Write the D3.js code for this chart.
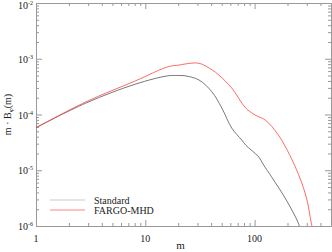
<!DOCTYPE html>
<html lang="en">
<head>
<meta charset="UTF-8">
<script src="https://d3js.org/d3.v7.min.js"></script>
<style>
  body { margin: 0; background: #fff; }
  text { font-family: "Liberation Serif", "DejaVu Serif", serif; fill: #222; }
</style>
</head>
<body>
<script>
// values
const stdM   = [1, 2.85, 8.1, 16.2, 20.4, 23.1, 31, 40.6, 50.1, 61.8, 76.2, 82.8, 109, 121, 143, 195, 251, 270];
const stdVal = [5.8e-5, 1.6e-4, 3.5e-4, 4.95e-4, 5.0e-4, 4.95e-4, 4.16e-4, 2.56e-4, 1.31e-4, 5.7e-5, 3.49e-5, 2.84e-5, 1.73e-5, 1.24e-5, 7.6e-6, 2.92e-6, 1.13e-6, 7e-7];
const fargoM   = [1, 2.85, 8.1, 16.2, 20.4, 23.1, 31, 40.9, 47.1, 61.8, 82.8, 101, 125, 165, 236, 297, 330, 350];
const fargoVal = [5.8e-5, 1.68e-4, 4.0e-4, 7.2e-4, 7.7e-4, 8.05e-4, 8.3e-4, 6.3e-4, 5.1e-4, 2.98e-4, 1.31e-4, 9.8e-5, 7.96e-5, 4.28e-5, 1.14e-5, 3.3e-6, 1.13e-6, 7e-7];
const seriesNames = ["Standard", "FARGO-MHD"];
const xTicks = [1, 10, 100];
const yExps = [-6, -5, -4, -3, -2];

const width = 332, height = 252;
const mLeft = 36, mRight = 331, mTop = 3, mBottom = 226;

const svg = d3.select("body").append("svg")
  .attr("width", width).attr("height", height);

const x = d3.scaleLog().domain([1, 500]).range([mLeft, mRight]);
const y = d3.scaleLog().domain([1e-6, 1e-2]).range([mBottom, mTop]);

// minor tick values
const xMinor = [];
for (let d = 1; d <= 100; d *= 10)
  for (let k = 2; k <= 9; k++) if (d * k <= 500) xMinor.push(d * k);
const yMinor = [];
for (let e = -6; e < -2; e++)
  for (let k = 2; k <= 9; k++) yMinor.push(k * Math.pow(10, e));

const axisColor = "#999";
function drawAxis(axisGen, tr) {
  const g = svg.append("g").attr("transform", tr).call(axisGen);
  g.selectAll("path").attr("stroke", axisColor);
  g.selectAll("line").attr("stroke", axisColor);
  g.selectAll("text").remove();
  return g;
}
// major ticks (inward) on all four sides
drawAxis(d3.axisBottom(x).tickValues(xTicks).tickSize(-6).tickSizeOuter(0), `translate(0,${mBottom})`);
drawAxis(d3.axisTop(x).tickValues(xTicks).tickSize(-6).tickSizeOuter(0), `translate(0,${mTop})`);
drawAxis(d3.axisLeft(y).tickValues(yExps.map(e => Math.pow(10, e))).tickSize(-6).tickSizeOuter(0), `translate(${mLeft},0)`);
drawAxis(d3.axisRight(y).tickValues(yExps.map(e => Math.pow(10, e))).tickSize(-6).tickSizeOuter(0), `translate(${mRight},0)`);
// minor ticks
drawAxis(d3.axisBottom(x).tickValues(xMinor).tickSize(-3).tickSizeOuter(0), `translate(0,${mBottom})`);
drawAxis(d3.axisTop(x).tickValues(xMinor).tickSize(-3).tickSizeOuter(0), `translate(0,${mTop})`);
drawAxis(d3.axisLeft(y).tickValues(yMinor).tickSize(-3).tickSizeOuter(0), `translate(${mLeft},0)`);
drawAxis(d3.axisRight(y).tickValues(yMinor).tickSize(-3).tickSizeOuter(0), `translate(${mRight},0)`);

// tick labels
svg.append("g").selectAll("text").data(xTicks).join("text")
  .attr("x", d => x(d)).attr("y", mBottom + 16)
  .attr("text-anchor", "middle").attr("font-size", 10)
  .text(d => d);

const yl = svg.append("g").selectAll("text").data(yExps).join("text")
  .attr("x", mLeft - 3).attr("y", d => Math.max(y(Math.pow(10, d)) + 4, 9))
  .attr("text-anchor", "end").attr("font-size", 10);
yl.append("tspan").text("10");
yl.append("tspan").attr("dy", -4).attr("font-size", 6).text(d => d);

// axis titles
svg.append("text").attr("x", (mLeft + mRight) / 2 - 3).attr("y", 249)
  .attr("text-anchor", "middle").attr("font-size", 11).text("m");
const yt = svg.append("text")
  .attr("transform", `translate(11,${(mTop + mBottom) / 2}) rotate(-90)`)
  .attr("text-anchor", "middle").attr("font-size", 10);
yt.append("tspan").text("m · B");
yt.append("tspan").attr("dy", 2).attr("font-size", 7).text("φ");
yt.append("tspan").attr("dy", -2).text("(m)");

// curves
svg.append("clipPath").attr("id", "clip").append("rect")
  .attr("x", mLeft).attr("y", mTop).attr("width", mRight - mLeft).attr("height", mBottom - mTop);

const line = d3.line().x(d => x(d[0])).y(d => y(d[1])).curve(d3.curveCatmullRom.alpha(0.5));
const plot = svg.append("g").attr("clip-path", "url(#clip)");
plot.append("path").datum(d3.zip(stdM, stdVal))
  .attr("d", line).attr("fill", "none").attr("stroke", "#555").attr("stroke-width", 0.8);
plot.append("path").datum(d3.zip(fargoM, fargoVal))
  .attr("d", line).attr("fill", "none").attr("stroke", "#f44").attr("stroke-width", 0.8);

// legend
const legColors = ["#bbb", "#f66"];
seriesNames.forEach((name, i) => {
  const ly = 200 + i * 10;
  svg.append("line").attr("x1", 50).attr("x2", 85).attr("y1", ly).attr("y2", ly)
    .attr("stroke", legColors[i]).attr("stroke-width", 0.8);
  svg.append("text").attr("x", 94).attr("y", ly + 3.5).attr("font-size", 10).text(name);
});
</script>
</body>
</html>
